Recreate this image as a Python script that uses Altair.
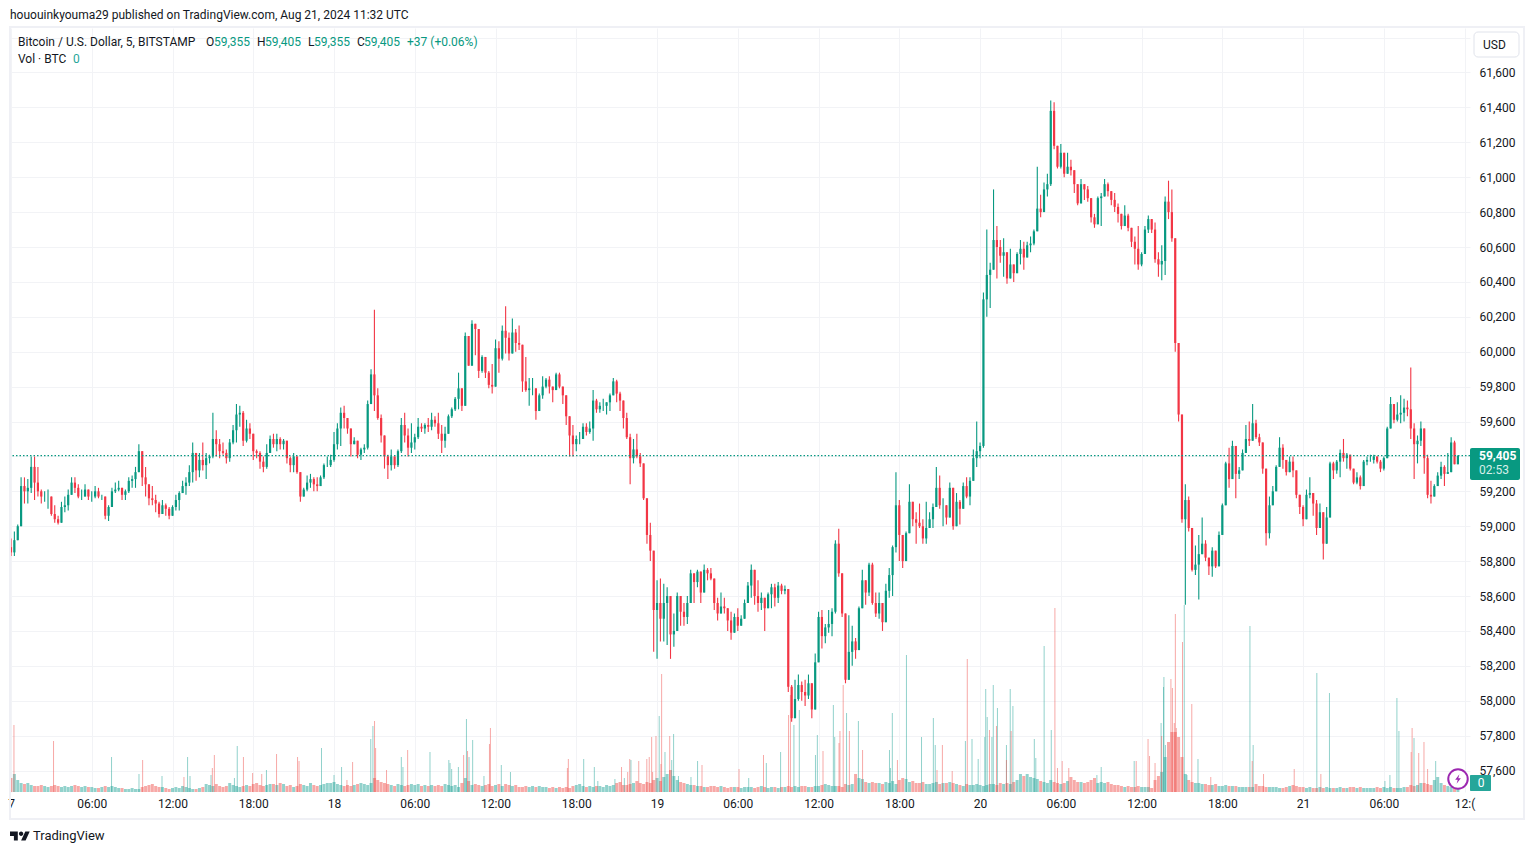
import altair as alt
import pandas as pd

# 15-minute candles (hours from Aug 17 00:00 UTC = slot * 0.25)
highs = [
58930,58970,59010,59280,59280,59270,59400,59400,59340,59210,
59200,59210,59170,59120,59060,59140,59170,59210,59280,59280,
59240,59210,59240,59210,59200,59230,59220,59180,59170,59120,
59220,59250,59260,59210,59210,59280,59290,59340,59470,59430,
59340,59200,59230,59180,59140,59150,59130,59110,59120,59180,
59200,59260,59280,59350,59480,59340,59420,59480,59420,59410,
59650,59550,59500,59480,59440,59500,59580,59700,59690,59660,
59610,59590,59520,59440,59430,59400,59470,59520,59530,59530,
59510,59500,59460,59400,59420,59390,59310,59220,59290,59300,
59280,59280,59290,59360,59400,59410,59540,59590,59680,59690,
59590,59560,59510,59480,59450,59470,59720,59900,60240,59790,
59640,59510,59410,59440,59390,59440,59620,59650,59560,59590,
59530,59620,59590,59590,59620,59650,59630,59650,59580,59570,
59640,59680,59740,59880,59740,60110,60000,60180,60160,60060,
59980,59960,59890,59930,60070,60060,60150,60260,60110,60190,
60130,60150,59990,59970,59850,59850,59770,59760,59860,59850,
59860,59800,59880,59880,59790,59750,59610,59580,59520,59540,
59590,59590,59600,59780,59730,59710,59730,59710,59760,59850,
59840,59770,59720,59650,59530,59500,59530,59420,59340,59160,
59020,58700,58690,58700,58670,58650,58430,58500,58620,58560,
58560,58600,58750,58700,58750,58670,58780,58760,58760,58640,
58590,58620,58590,58530,58510,58500,58530,58490,58580,58680,
58780,58720,58690,58620,58560,58620,58670,58670,58680,58670,
58660,58640,58090,58120,58150,58110,58120,58150,58090,58270,
58510,58520,58440,58520,58530,58920,58985,58670,58460,58490,
58430,58360,58540,58750,58690,58790,58790,58620,58620,58540,
58670,58760,58890,59310,59150,58870,58970,59240,59140,59080,
59130,59040,59140,59080,59130,59340,59290,59160,59110,59250,
59190,59190,59150,59250,59280,59280,59440,59600,59480,60340,
60700,60510,60930,60720,60640,60650,60510,60590,60480,60570,
60640,60630,60630,60660,60700,61060,60900,60970,61020,61440,
61430,61140,61190,61080,61140,61100,61040,60920,60990,60950,
60950,60870,60790,60890,60910,60990,60970,60910,60910,60850,
60790,60840,60790,60710,60660,60720,60570,60720,60780,60750,
60740,60570,60610,60890,60980,60930,60630,60000,59610,59240,
59170,58970,58890,58950,59050,58920,58820,58880,58830,58970,
59130,59370,59450,59490,59360,59340,59440,59580,59600,59700,
59610,59530,59460,59250,59170,59230,59350,59510,59470,59370,
59400,59400,59260,59150,59120,59210,59280,59180,59150,59130,
59040,59110,59370,59370,59380,59440,59500,59420,59350,59310,
59310,59290,59380,59400,59410,59410,59400,59380,59400,59570,
59740,59690,59710,59750,59730,59720,59910,59590,59520,59600,
59500,59410,59260,59240,59310,59370,59350,59420,59510,59490,59405]
lows = [
58830,58830,58930,59000,59130,59130,59190,59150,59170,59130,
59140,59100,59060,59020,59010,59020,59080,59090,59180,59190,
59160,59150,59170,59150,59140,59160,59160,59150,59040,59030,
59130,59190,59200,59150,59150,59190,59220,59220,59320,59230,
59170,59120,59120,59080,59050,59080,59060,59040,59060,59090,
59090,59190,59180,59230,59250,59260,59280,59320,59270,59360,
59390,59400,59390,59410,59360,59370,59470,59480,59570,59460,
59480,59500,59380,59390,59330,59310,59330,59420,59450,59430,
59440,59440,59360,59310,59310,59300,59140,59170,59200,59220,
59200,59200,59240,59270,59340,59340,59370,59440,59460,59560,
59530,59400,59470,59390,59380,59420,59440,59720,59660,59610,
59480,59330,59270,59320,59330,59340,59420,59480,59400,59420,
59440,59500,59540,59530,59540,59550,59570,59500,59420,59450,
59530,59620,59660,59670,59660,59690,59920,59930,59980,59850,
59880,59850,59790,59760,59830,59880,59950,59990,59950,60040,
60000,60010,59770,59770,59690,59750,59610,59680,59730,59790,
59760,59710,59780,59790,59700,59580,59400,59400,59430,59470,
59510,59520,59530,59490,59650,59650,59660,59640,59660,59750,
59710,59660,59560,59500,59240,59360,59390,59340,59150,58900,
58800,58280,58240,58340,58340,58320,58240,58310,58440,58430,
58430,58440,58570,58560,58650,58560,58640,58690,58690,58520,
58460,58500,58500,58400,58350,58430,58400,58430,58470,58560,
58590,58550,58510,58520,58400,58530,58530,58540,58560,58610,
58610,58050,57880,57960,58000,58000,57970,58010,57900,57990,
58220,58300,58330,58390,58370,58500,58710,58480,58100,58180,
58200,58240,58450,58530,58550,58600,58550,58480,58470,58400,
58450,58590,58600,58850,58800,58760,58820,59020,59000,58900,
58990,58900,58900,58990,58990,59160,59100,59000,59010,59130,
58980,59050,59010,59110,59160,59120,59270,59340,59390,59450,
60200,60250,60500,60420,60510,60430,60390,60420,60400,60450,
60500,60470,60550,60570,60610,60780,60770,60800,60890,60950,
61160,61050,61050,61000,61030,61010,60910,60840,60860,60870,
60860,60740,60710,60780,60720,60900,60890,60840,60800,60740,
60700,60740,60690,60600,60500,60470,60490,60620,60680,60680,
60510,60430,60410,60440,60760,60630,60000,59600,59020,58550,
58970,58740,58720,58580,58850,58800,58720,58710,58760,58810,
59000,59120,59220,59310,59160,59270,59360,59470,59460,59510,
59500,59460,59300,58890,58930,59120,59210,59370,59330,59290,
59340,59280,59160,59070,59000,59100,59160,59060,58950,59010,
58810,58950,59160,59270,59300,59280,59370,59330,59320,59240,
59240,59210,59270,59350,59370,59360,59360,59310,59320,59450,
59610,59590,59600,59590,59600,59630,59500,59270,59360,59460,
59300,59160,59130,59170,59240,59270,59230,59300,59370,59390,59355]
closes = [
58850,58920,59000,59230,59200,59220,59340,59250,59200,59170,
59170,59170,59070,59040,59020,59110,59120,59180,59250,59220,
59170,59170,59210,59170,59170,59200,59170,59170,59060,59110,
59200,59210,59220,59180,59200,59260,59270,59310,59430,59280,
59240,59160,59150,59130,59070,59120,59100,59060,59110,59150,
59190,59230,59250,59310,59420,59320,59380,59350,59390,59400,
59500,59470,59430,59420,59390,59480,59550,59640,59650,59490,
59560,59530,59430,59420,59370,59340,59420,59500,59470,59500,
59470,59490,59390,59350,59400,59310,59170,59210,59250,59270,
59240,59230,59280,59350,59350,59380,59470,59560,59650,59620,
59560,59470,59490,59410,59440,59450,59700,59870,59750,59620,
59520,59400,59350,59400,59350,59430,59580,59520,59450,59480,
59510,59570,59560,59580,59570,59610,59590,59530,59490,59530,
59630,59670,59730,59790,59690,60090,59920,60160,60130,59890,
59970,59880,59810,59800,60020,59960,60120,60080,59990,60110,
60050,60040,59830,59780,59790,59790,59660,59750,59800,59840,
59800,59780,59870,59800,59750,59630,59520,59470,59500,59500,
59570,59540,59560,59720,59670,59690,59690,59710,59750,59830,
59760,59720,59620,59510,59390,59440,59400,59360,59160,58950,
58860,58520,58560,58470,58560,58600,58380,58400,58600,58510,
58480,58560,58730,58680,58740,58620,58750,58730,58700,58560,
58500,58540,58530,58460,58390,58480,58430,58470,58560,58660,
58750,58600,58560,58590,58530,58610,58650,58590,58660,58630,
58640,58080,57900,58010,58090,58050,58030,58100,57950,58220,
58480,58370,58420,58440,58510,58900,58730,58500,58120,58280,
58340,58290,58530,58690,58620,58780,58560,58500,58560,58450,
58630,58720,58880,59120,58950,58800,58960,59140,59040,59020,
59000,58930,58990,59040,59110,59220,59120,59120,59050,59220,
59000,59140,59100,59230,59170,59260,59390,59430,59460,60300,
60440,60470,60640,60600,60550,60570,60420,60500,60450,60560,
60590,60540,60610,60620,60690,60820,60800,60930,60960,61380,
61180,61060,61140,61020,61060,61040,60960,60850,60960,60930,
60880,60770,60730,60880,60890,60960,60920,60870,60830,60790,
60720,60780,60710,60630,60590,60500,60560,60700,60760,60700,
60530,60500,60520,60860,60800,60650,60050,59640,59040,59150,
58990,58750,58780,58840,58900,58820,58770,58860,58770,58950,
59120,59360,59270,59460,59300,59320,59420,59500,59490,59590,
59510,59480,59330,58960,59120,59200,59340,59450,59380,59310,
59370,59320,59180,59110,59040,59180,59190,59130,58990,59080,
58900,59050,59360,59320,59370,59420,59390,59410,59330,59250,
59280,59230,59370,59380,59380,59400,59370,59330,59390,59560,
59700,59610,59640,59650,59680,59670,59560,59470,59490,59560,
59390,59180,59170,59230,59290,59340,59300,59310,59480,59355,59405]
first_open = 58880

# low-level volume per slot
base_volume = [
14,18,12,9,8,9,7,6,6,7, 6,5,6,7,6,5,6,5,6,7, 6,5,6,5,5,4,4,5,6,5,
6,5,4,4,3,3,4,3,3,5, 6,7,8,6,5,5,4,3,4,5, 4,6,5,4,3,3,4,5,8,7,
6,8,6,5,6,9,7,6,5,6, 7,6,8,9,7,6,7,8,8,7, 9,8,6,7,5,6,8,7,6,9,
7,6,7,8,9,9,10,8,7,6, 7,6,7,8,9,8,7,9,14,12, 10,9,8,7,6,8,7,6,7,8,
7,8,6,7,6,7,6,7,6,8, 7,6,7,5,9,14,11,7,8,7, 6,7,8,6,7,8,6,8,7,6,
7,5,5,6,5,6,5,6,5,5, 4,5,4,5,4,5,4,6,7,8, 6,5,6,5,6,6,5,7,6,7,
9,10,7,7,8,9,11,9,8,10, 9,12,14,11,15,18,22,16,12,10, 9,8,7,7,6,6,5,5,6,6,
5,6,5,4,5,5,5,4,5,5, 5,4,5,6,5,4,5,5,4,5, 5,6,5,6,5,6,6,5,5,6, 6,7,8,7,6,6,6,5,8,7,
8,18,14,13,10,9,10,9,9,8, 10,9,11,8,12,14,13,10,11,9, 9,10,8,8,9,10,8,9,9,10,
9,8,7,6,8,7,7,8,7,6, 7,8,8,7,9,8,9,8,10,12, 18,16,18,15,14,13,11,10,9,12,
10,9,8,9,11,15,12,10,10,9, 10,12,14,9,10,9,10,8,7,7, 6,5,6,5,5,6,5,5,5,4,
12,16,20,35,50,60,60,55,35,18, 12,10,9,9,8,8,7,7,8,6, 6,7,6,6,6,5,5,5,5,5,
8,6,6,5,5,5,5,4,4,5, 6,7,6,5,5,4,5,4,4,5, 4,5,4,4,4,5,4,4,5,5,
4,5,4,4,4,4,5,4,5,4, 5,4,4,4,5,5,7,6,7,9, 9,8,7,12,15,9,7,6,5,6, 5,5,4,5,4,3,2,2,1,1,0]

# isolated tall volume bars (hours from Aug 17 00:00, height)
spike_up_t = [7.47,9.51,11.22,13.12,13.30,14.86,16.60,16.81,18.98,23.07,24.0,24.56,26.73,26.89,29.00,29.12,31.13,32.53,32.62,32.74,33.24,33.84,34.03,34.30,35.14,36.43,37.11,42.55,43.34,43.6,44.87,45.57,46.06,48.16,48.59,49.09,49.23,49.59,50.52,51.01,54.81,56.12,57.18,58.17,58.57,59.77,59.91,61.10,61.20,62.08,62.96,65.27,65.34,65.48,66.53,67.65,68.53,68.67,70.91,71.40,71.86,72.35,72.42,72.53,72.88,72.98,73.29,73.96,74.24,74.44,76.03,76.14,76.76,77.29,80.68,81.0,83.45,85.45,85.63,85.66,85.77,87.17,87.37,88.19,92.05,92.29,97.02,97.96,102.08,102.45,102.97,103.12,104.24,105.85]
spike_up_v = [35,18,16,35,16,17,14,46,22,44,17,25,53,66,35,25,40,32,29,23,25,73,35,52,16,27,20,33,25,11,13,14,32,76,40,32,58,16,15,31,14,29,40,67,82,37,57,87,55,79,71,42,24,79,137,55,74,47,51,53,33,55,103,75,55,107,84,47,103,86,53,34,146,62,17,25,31,69,105,115,47,187,17,33,166,47,119,99,11,17,94,61,54,31]
spike_dn_t = [0.22,3.16,9.78,12.85,14.96,15.11,17.27,17.95,18.63,19.73,21.29,21.40,24.96,25.38,27.01,27.09,27.90,29.47,33.63,33.92,35.55,35.62,41.34,41.41,45.36,45.82,45.97,46.64,47.24,47.42,47.60,47.67,47.92,48.29,48.34,48.94,51.34,54.09,55.91,57.77,57.91,60.33,61.52,61.59,61.83,62.29,63.27,65.86,68.80,69.20,69.93,71.05,72.70,73.22,73.96,74.31,77.56,77.75,78.10,78.59,83.60,84.48,84.59,85.0,85.49,86.18,86.29,86.43,86.51,86.58,87.04,87.73,89.14,92.22,93.06,95.34,97.32,104.03,104.10,104.59,104.98,105.25]
spike_dn_v = [67,51,32,15,24,37,35,19,18,38,35,31,12,30,71,44,22,42,37,41,48,64,24,33,25,20,33,31,33,35,55,20,56,28,118,56,27,23,37,77,97,41,49,61,107,61,42,32,22,47,21,133,62,66,32,61,184,24,31,24,31,53,36,29,56,113,104,69,178,64,150,88,15,31,18,23,18,40,64,39,50,23]

price_ticks = [57600,57800,58000,58200,58400,58600,58800,59000,59200,59400,59600,59800,60000,60200,60400,60600,60800,61000,61200,61400,61600,61800]
hidden_price_labels = [59400, 61800]
time_ticks = [0,6,12,18,24,30,36,42,48,54,60,66,72,78,84,90,96,102,108]
time_labels = ["7","06:00","12:00","18:00","18","06:00","12:00","18:00","19","06:00","12:00","18:00","20","06:00","12:00","18:00","21","06:00","12:("]
last_price = [59405]

UP, DOWN = "#089981", "#F23645"
VUP, VDN = "#26a69a", "#ef5350"
FONT = "Roboto"
INK = "#131722"
X0, Y0, W, H = 11, 28, 1459, 764
xs = alt.Scale(domain=[0, 108.4], nice=False, zero=False)
ys = alt.Scale(domain=[57477, 61855], nice=False, zero=False)
vs = alt.Scale(domain=[0, 764], nice=False, zero=False)

opens = [first_open] + closes[:-1]
rows = []
for i, (o, h, l, c) in enumerate(zip(opens, highs, lows, closes)):
    rows.append(dict(t=i * 0.25, o=o, c=c, hi=max(h, o, c), lo=min(l, o, c), d="up" if c >= o else "dn", v=base_volume[i] if i < len(base_volume) else 0))
candles = pd.DataFrame(rows)
spikes = pd.DataFrame(
    [dict(t=t, v=v, d="up") for t, v in zip(spike_up_t, spike_up_v)]
    + [dict(t=t, v=v, d="dn") for t, v in zip(spike_dn_t, spike_dn_v)]
)
one = pd.DataFrame({"a": [0]})

cc = alt.Color("d:N", scale=alt.Scale(domain=["up", "dn"], range=[UP, DOWN]), legend=None)
vc = alt.Color("d:N", scale=alt.Scale(domain=["up", "dn"], range=[VUP, VDN]), legend=None)

xax = alt.Axis(values=time_ticks, grid=True, gridColor="#f2f3f6", gridWidth=1, ticks=False, domain=False,
               labelExpr="[" + ",".join('"%s"' % s for s in time_labels) + "][datum.value/6]",
               labelFont=FONT, labelFontSize=12, labelColor=INK, labelPadding=6, labelOverlap=False,
               labelFlush=False, labelBound=False, title=None)
hide = " || ".join("datum.value == %d" % v for v in hidden_price_labels)
yax = alt.Axis(values=price_ticks, orient="right", grid=True, gridColor="#f2f3f6", gridWidth=1, ticks=False,
               domain=False, labelExpr="(%s) ? '' : format(datum.value, ',')" % hide,
               labelFont=FONT, labelFontSize=12, labelColor=INK, labelPadding=9,
               labelOverlap=False, labelFlush=False, labelBound=False, title=None)

x_q = alt.X("t:Q", scale=xs, axis=xax)
x_n = alt.X("t:Q", scale=xs)

grid_holder = alt.Chart(candles).mark_rule(opacity=0).encode(x=x_q, y=alt.Y("hi:Q", scale=ys, axis=yax))

vol_base = alt.Chart(candles).mark_rule(strokeWidth=3, opacity=0.5).encode(
    x=x_n, y=alt.Y("v:Q", scale=vs, axis=None), y2=alt.value(H), color=vc)
vol_spike = alt.Chart(spikes).mark_rule(strokeWidth=1, opacity=0.5).encode(
    x=x_n, y=alt.Y("v:Q", scale=vs, axis=None), y2=alt.value(H), color=vc)
wick = alt.Chart(candles).mark_rule(strokeWidth=1.1).encode(
    x=x_n, y=alt.Y("hi:Q", scale=ys, axis=None), y2="lo:Q", color=cc)
body = alt.Chart(candles).mark_rule(strokeWidth=2.2).encode(
    x=x_n, y=alt.Y("o:Q", scale=ys, axis=None), y2="c:Q", color=cc)
price_line = alt.Chart(pd.DataFrame({"p": last_price})).mark_rule(color=UP, strokeWidth=1.2, strokeDash=[1.5, 2]).encode(
    y=alt.Y("p:Q", scale=ys, axis=None))


def text(s, x, y, color=INK, size=12, align="left", weight="normal"):
    return alt.Chart(pd.DataFrame({"s": [s]})).mark_text(
        font=FONT, fontSize=size, color=color, align=align, baseline="middle", fontWeight=weight
    ).encode(x=alt.value(x - X0), y=alt.value(y - Y0), text="s:N")


def box(x1, y1, x2, y2, fill, stroke=None, radius=0, sw=1):
    kw = dict(fill=fill, cornerRadius=radius)
    if stroke:
        kw.update(stroke=stroke, strokeWidth=sw)
    return alt.Chart(one).mark_rect(**kw).encode(
        x=alt.value(x1 - X0), x2=alt.value(x2 - X0), y=alt.value(y1 - Y0), y2=alt.value(y2 - Y0))


def glyph(path, x, y, size, fill, stroke=None, sw=1):
    kw = dict(shape=path, size=size, filled=True, fill=fill, opacity=1, fillOpacity=1)
    if stroke:
        kw.update(stroke=stroke, strokeWidth=sw)
    else:
        kw.update(strokeWidth=0)
    return alt.Chart(one).mark_point(**kw).encode(x=alt.value(x - X0), y=alt.value(y - Y0))


TV = ("M-.22,-.44 L-1,-.44 L-1,0 L-.61,0 L-.61,.44 L-.22,.44 Z "
      "M.56,.44 L.11,.44 L.53,-.44 L.97,-.44 Z "
      "M.33,-.22 A.22,.22 0 1 1 -.11,-.22 A.22,.22 0 1 1 .33,-.22 Z")
BOLT = "M.3,-1 L-.6,.15 L-.05,.15 L-.3,1 L.6,-.15 L.05,-.15 Z"
frame_col = "#eff0f5"
G = "#089981"

layers = [
    grid_holder, vol_base, vol_spike, wick, body, price_line,
    # chart frame
    box(9, 26, 1525, 28, frame_col), box(9, 818, 1525, 820, frame_col),
    box(9, 26, 11, 820, frame_col), box(1523, 26, 1525, 820, frame_col),
    # header
    text("hououinkyouma29 published on TradingView.com, Aug 21, 2024 11:32 UTC", 10, 15),
    text("Bitcoin / U.S. Dollar, 5, BITSTAMP", 18, 42),
    text("O", 206, 42), text("59,355", 214, 42, G),
    text("H", 257, 42), text("59,405", 265, 42, G),
    text("L", 308, 42), text("59,355", 314, 42, G),
    text("C", 357, 42), text("59,405", 364, 42, G),
    text("+37 (+0.06%)", 407, 42, G),
    text("Vol · BTC", 18, 59), text("0", 73, 59, "#26a69a"),
    # price-scale widgets
    box(1474, 32, 1519, 57, "#ffffff", "#e0e3eb", 4), text("USD", 1483, 45),
    box(1470, 448, 1520, 480, G, None, 2),
    text("59,405", 1479, 456, "#ffffff", 12, weight="bold"),
    text("02:53", 1479, 470, "#d6efe9"),
    box(1470, 775, 1491, 791, "#26a69a", None, 1),
    text("0", 1481, 783, "#ffffff", 12, "center"),
    glyph("circle", 1458, 779, 380, "#ffffff", "#9c27b0", 2),
    glyph(BOLT, 1458, 779, 90, "#9c27b0"),
    # footer
    glyph(TV, 20, 836, 400, INK),
    text("TradingView", 33, 836, INK, 13),
]

chart = alt.layer(*layers).resolve_scale(y="independent", color="independent").properties(
    width=W, height=H,
    padding={"left": X0 - 8, "top": Y0 - 8, "right": 56, "bottom": 54},
    autosize=alt.AutoSizeParams(type="none"),
    background="#ffffff",
).configure_view(stroke=None)

chart.save("out.html", embed_options={"renderer": "svg", "actions": False})
